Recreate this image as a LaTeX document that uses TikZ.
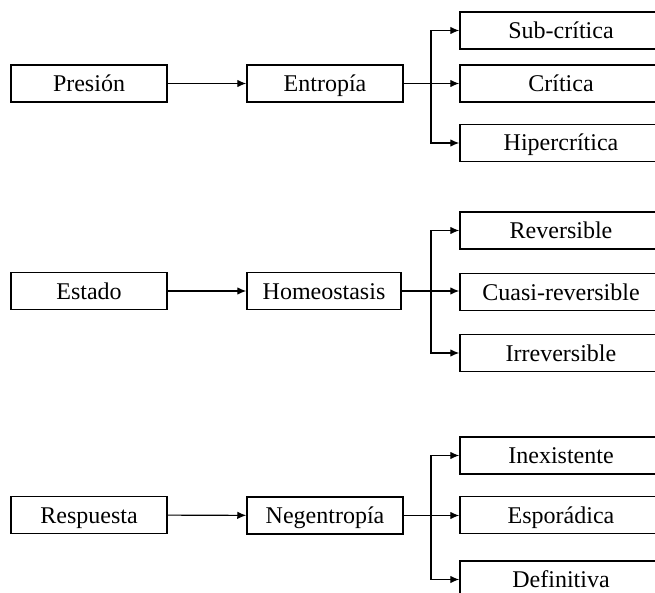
\documentclass[tikz,border=0pt]{standalone}
\usepackage{fontspec}
\setmainfont{Liberation Serif}
\usetikzlibrary{arrows.meta,positioning}

\begin{document}
\begin{tikzpicture}[
  x=1pt, y=-1pt,
  item/.style={rectangle, draw, line width=1.5pt, minimum width=156pt, minimum height=37pt, inner sep=0pt, text height=18pt, text depth=2pt, font=\fontsize{24}{28}\selectfont},
  leaf/.style={item, minimum width=202pt},
  link/.style={-{Latex[length=9pt,width=7.5pt]}, line width=1.1pt},
]
  \useasboundingbox (0,0) rectangle (655,593);
  \clip (0,0) rectangle (655,593);

  % presion
  \node[item] (pres) at (89,83.5) {Presión};
  \node[item] (entr) at (325,83.5) {Entropía};
  \node[leaf] (sub) at (561,30.5) {Sub-crítica};
  \node[leaf] (crit) at (561,83.5) {Crítica};
  \node[leaf] (hip) at (561,143) {Hipercrítica};
  \coordinate (b1) at (431,83.5);

  \draw[link] (pres) -- (entr);
  \draw[link] (entr) -- (crit);
  \draw[link] (b1) |- (sub);
  \draw[link] (b1) |- (hip);

  % estado
  \node[item] (est) at (89,291) {Estado};
  \node[item, minimum width=154pt] (homeo) at (324,291) {Homeostasis};
  \node[leaf] (rev) at (561,230.5) {Reversible};
  \node[leaf] (cuasi) at (561,292) {Cuasi-reversible};
  \node[leaf] (irrev) at (561,353) {Irreversible};
  \coordinate (b2) at (431,291);

  \draw[link] (est) -- (homeo);
  \draw[link] (homeo) -- (b2) -- (cuasi.west |- b2);
  \draw[link] (b2) |- (rev);
  \draw[link] (b2) |- (irrev);

  % respuesta
  \node[item] (resp) at (89,515) {Respuesta};
  \node[item] (negen) at (325,515.5) {Negentropía};
  \node[leaf] (inex) at (561,455.5) {Inexistente};
  \node[leaf] (espo) at (561,515) {Esporádica};
  \node[leaf] (defi) at (561,579.5) {Definitiva};
  \coordinate (b3) at (431,515.5);

  \draw[link] (resp) -- (negen);
  \draw[link] (negen) -- (b3) -- (espo.west |- b3);
  \draw[link] (b3) |- (inex);
  \draw[link] (b3) |- (defi);
\end{tikzpicture}
\end{document}
